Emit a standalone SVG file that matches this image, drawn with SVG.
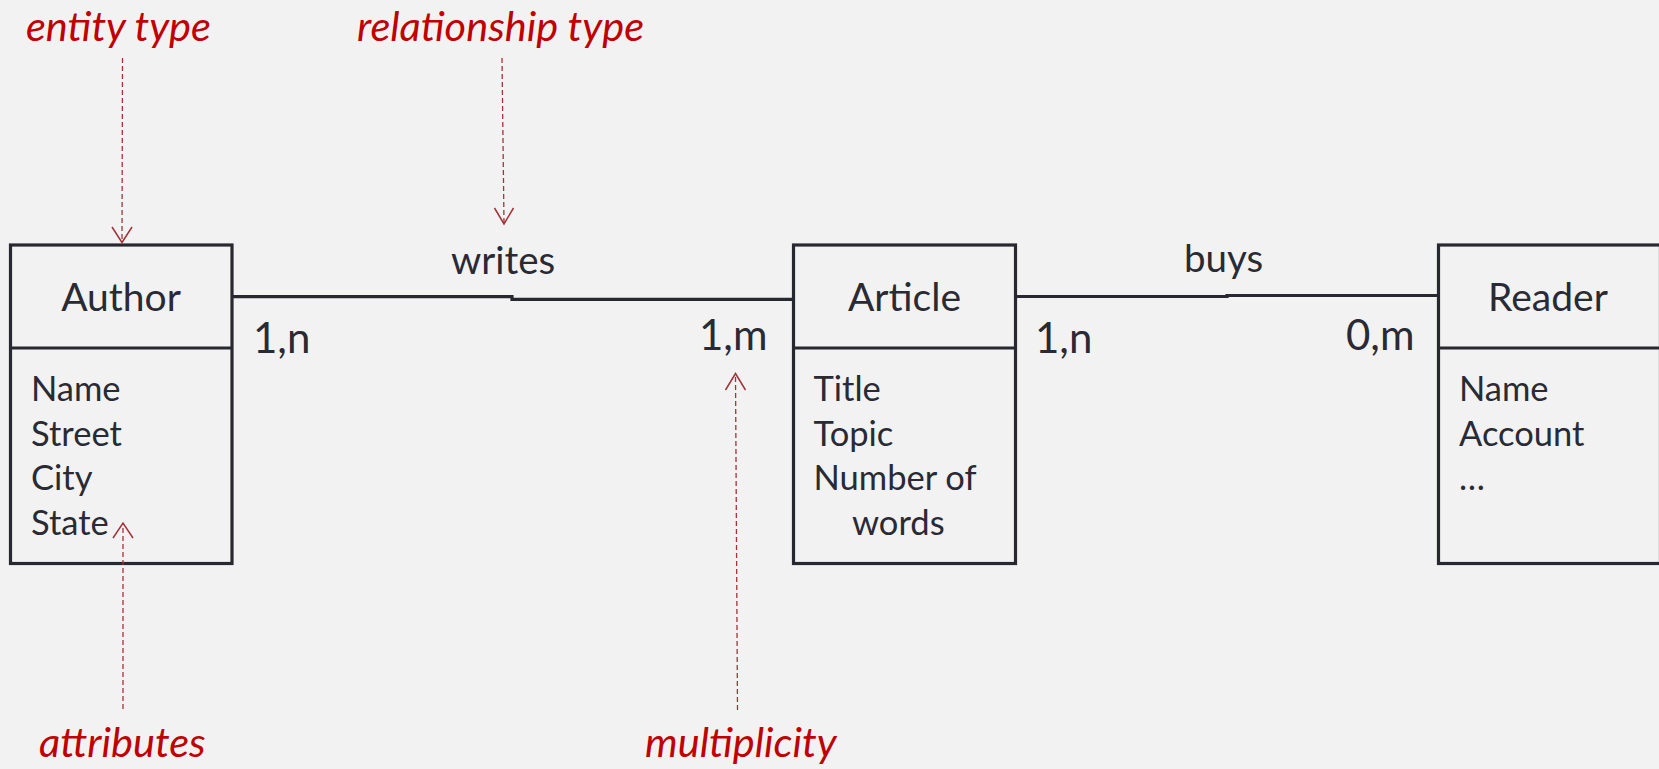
<svg xmlns="http://www.w3.org/2000/svg" width="1659" height="769" viewBox="0 0 1659 769">
  <style>
    .box { fill: none; stroke: #282831; stroke-width: 3.2; }
    .edge { fill: none; stroke: #282831; stroke-width: 3.2; }
    .title { font-family: Lato, "Liberation Sans", sans-serif; font-size: 39px; fill: #2a2a35; text-anchor: middle; }
    .attr { font-family: Lato, "Liberation Sans", sans-serif; font-size: 34.5px; fill: #2a2a35; }
    .rel { font-family: Lato, "Liberation Sans", sans-serif; font-size: 38.5px; fill: #2a2a35; }
    .mult { font-family: Lato, "Liberation Sans", sans-serif; font-size: 42px; fill: #2a2a35; }
    .note { font-family: Lato, "Liberation Sans", sans-serif; font-style: italic; font-size: 41.5px; fill: #c00000; }
    .pointer { fill: none; stroke: #a3323a; stroke-width: 1.3; stroke-dasharray: 5 3; }
    .head { fill: none; stroke: #a3323a; stroke-width: 1.5; }
  </style>
  <rect width="1659" height="769" fill="#f2f2f2"/>

  <!-- relationships between entities -->
  <g id="connectors">
    <path class="edge" d="M232 296.7 H512 V299.3 H793.5"/>
    <path class="edge" d="M1015.7 296.5 H1227 V295.5 H1438.5"/>
    <text class="rel" x="451" y="274">writes</text>
    <text class="rel" x="1184" y="272">buys</text>
    <text class="mult" x="253" y="353">1,n</text>
    <text class="mult" x="699" y="350">1,m</text>
    <text class="mult" x="1035" y="353">1,n</text>
    <text class="mult" x="1346" y="350">0,m</text>
  </g>

  <g id="author">
    <rect class="box" x="10.5" y="245" width="221.5" height="318.5"/>
    <line class="box" x1="10.5" y1="348" x2="232" y2="348"/>
    <text class="title" x="121" y="311">Author</text>
    <text class="attr" x="31" y="401">Name</text>
    <text class="attr" x="31" y="446">Street</text>
    <text class="attr" x="31" y="490">City</text>
    <text class="attr" x="31" y="535">State</text>
  </g>

  <g id="article">
    <rect class="box" x="793.5" y="245" width="222" height="318.5"/>
    <line class="box" x1="793.5" y1="348" x2="1015.5" y2="348"/>
    <text class="title" x="904.5" y="311">Article</text>
    <text class="attr" x="813.5" y="401">Title</text>
    <text class="attr" x="813.5" y="446">Topic</text>
    <text class="attr" x="813.5" y="490">Number of</text>
    <text class="attr" x="852" y="535">words</text>
  </g>

  <g id="reader">
    <rect class="box" x="1438.5" y="245" width="222" height="318.5"/>
    <line class="box" x1="1438.5" y1="348" x2="1660" y2="348"/>
    <text class="title" x="1548" y="311">Reader</text>
    <text class="attr" x="1459" y="401">Name</text>
    <text class="attr" x="1459" y="446">Account</text>
    <text class="attr" x="1459" y="490">…</text>
  </g>

  <!-- explanatory callouts -->
  <g id="note-entity">
    <text class="note" x="26" y="41">entity type</text>
    <line class="pointer" x1="122.5" y1="58" x2="122" y2="242"/>
    <polyline class="head" points="112,227 122,242.5 132,227"/>
  </g>
  <g id="note-relationship">
    <text class="note" x="357" y="41">relationship type</text>
    <line class="pointer" x1="502" y1="58" x2="504" y2="223"/>
    <polyline class="head" points="494.5,208 504,224 513.5,208"/>
  </g>
  <g id="note-attributes">
    <text class="note" x="39" y="757">attributes</text>
    <line class="pointer" x1="123" y1="709" x2="123" y2="524"/>
    <polyline class="head" points="113,538 123,523 133,538"/>
  </g>
  <g id="note-multiplicity">
    <text class="note" x="645" y="757">multiplicity</text>
    <line class="pointer" x1="737.5" y1="710" x2="735.5" y2="374"/>
    <polyline class="head" points="725.5,390 735.5,373.5 745.5,390"/>
  </g>
</svg>
